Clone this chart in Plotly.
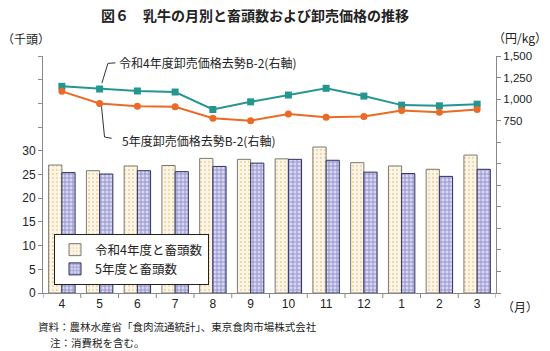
import plotly.graph_objects as go

months = ["4", "5", "6", "7", "8", "9", "10", "11", "12", "1", "2", "3"]
heads_r4 = [27.0, 25.8, 26.8, 26.9, 28.4, 28.2, 28.3, 30.8, 27.5, 26.8, 26.1, 29.1]
heads_r5 = [25.4, 25.1, 25.8, 25.6, 26.7, 27.4, 28.2, 28.0, 25.5, 25.2, 24.6, 26.1]
price_r4 = [1148, 1117, 1094, 1082, 879, 968, 1047, 1125, 1035, 930, 922, 941]
price_r5 = [1090, 950, 918, 910, 777, 750, 828, 789, 797, 868, 848, 880]

left_ticks = [0, 5, 10, 15, 20, 25, 30, 35, 40, 45, 50]
left_labels = ["0", "5", "10", "15", "20", "25", "30", "", "", "", ""]
right_ticks = [-1250, -1000, -750, -500, -250, 0, 250, 500, 750, 1000, 1250, 1500]
right_labels = ["", "", "", "", "", "", "", "", "750", "1,000", "1,250", "1,500"]

FONT = "Noto Sans CJK JP"
idx = list(range(len(months)))

fig = go.Figure()
fig.add_trace(go.Bar(
    x=idx, y=heads_r4, name="令和4年度と畜頭数",
    marker=dict(color="#fbf1dc", line=dict(color="#7a7a70", width=1),
                pattern=dict(shape=".", fgcolor="#e0b880", bgcolor="#fdf6e6", size=4, solidity=0.25)),
))
fig.add_trace(go.Bar(
    x=idx, y=heads_r5, name="5年度と畜頭数",
    marker=dict(color="#c9c9ec", line=dict(color="#30305a", width=1),
                pattern=dict(shape="+", fgcolor="#5050a8", bgcolor="#d8d8f2", size=4, solidity=0.45)),
))
fig.add_trace(go.Scatter(
    x=idx, y=price_r4, yaxis="y2", mode="lines+markers", showlegend=False,
    line=dict(color="#24968f", width=2),
    marker=dict(symbol="square", size=7, color="#24968f"),
))
fig.add_trace(go.Scatter(
    x=idx, y=price_r5, yaxis="y2", mode="lines+markers", showlegend=False,
    line=dict(color="#ea6a26", width=2),
    marker=dict(symbol="circle", size=7, color="#ea6a26"),
))

# callout lines
fig.add_shape(type="path", xref="x", yref="y2",
              path="M 1.42,1420 L 1.22,1415 L 1.06,1185",
              line=dict(color="#333333", width=1))
fig.add_shape(type="path", xref="x", yref="y2",
              path="M 1.05,913 L 1.13,560 L 1.32,545",
              line=dict(color="#333333", width=1))

fig.add_annotation(text="令和4年度卸売価格去勢B-2(右軸)", xref="paper", yref="paper",
                   x=(117 - 43) / 453, y=(293 - 62) / 237, xanchor="left", yanchor="middle",
                   showarrow=False, font=dict(size=12, color="#222222", family=FONT))
fig.add_annotation(text="5年度卸売価格去勢B-2(右軸)", xref="paper", yref="paper",
                   x=(120 - 43) / 453, y=(293 - 140) / 237, xanchor="left", yanchor="middle",
                   showarrow=False, font=dict(size=12, color="#222222", family=FONT))

fig.add_annotation(text="（千頭）", xref="paper", yref="paper", x=-43 / 453, y=(293 - 38) / 237,
                   xanchor="left", yanchor="middle", showarrow=False,
                   font=dict(size=12, color="#222222", family=FONT))
fig.add_annotation(text="（円/kg）", xref="paper", yref="paper", x=(549 - 43) / 453, y=(293 - 37) / 237,
                   xanchor="right", yanchor="middle", showarrow=False,
                   font=dict(size=12, color="#222222", family=FONT))
fig.add_annotation(text="（月）", xref="paper", yref="paper", x=(500 - 43) / 453, y=(293 - 306) / 237,
                   xanchor="left", yanchor="middle", showarrow=False,
                   font=dict(size=12, color="#222222", family=FONT))
fig.add_annotation(text="資料：農林水産省「食肉流通統計」、東京食肉市場株式会社", xref="paper", yref="paper",
                   x=(36 - 43) / 453, y=(293 - 326) / 237, xanchor="left", yanchor="middle",
                   showarrow=False, font=dict(size=10.5, color="#222222", family=FONT))
fig.add_annotation(text="注：消費税を含む。", xref="paper", yref="paper",
                   x=(48 - 43) / 453, y=(293 - 342) / 237, xanchor="left", yanchor="middle",
                   showarrow=False, font=dict(size=10.5, color="#222222", family=FONT))

fig.update_layout(
    width=550, height=351,
    margin=dict(l=43, r=54, t=56, b=58),
    paper_bgcolor="white", plot_bgcolor="white",
    font=dict(family=FONT, size=12, color="#222222"),
    title=dict(text="<b>図６　乳牛の月別と畜頭数および卸売価格の推移</b>", x=255 / 550, xanchor="center",
               y=1 - 16 / 351, yanchor="middle", font=dict(size=14, family=FONT, color="#222222")),
    barmode="group", bargap=0.3, bargroupgap=0.0,
    showlegend=True,
    legend=dict(x=(54 - 43) / 453, y=(293 - 234) / 237, xanchor="left", yanchor="top",
                bgcolor="white", bordercolor="#222222", borderwidth=1,
                font=dict(size=12.5, family=FONT), tracegroupgap=0, itemwidth=30),
    xaxis=dict(range=[-0.5, 11.5], tickvals=idx, ticktext=months, showgrid=False,
               showline=True, linecolor="#888888", linewidth=1, ticks="", zeroline=False,
               tickfont=dict(size=12, family="Liberation Sans", color="#222222")),
    yaxis=dict(range=[0, 50], tickvals=left_ticks, ticktext=left_labels, showgrid=False,
               showline=True, linecolor="#888888", linewidth=1, ticks="outside", ticklen=4,
               tickcolor="#888888", zeroline=False,
               tickfont=dict(size=12, family="Liberation Sans", color="#222222")),
    yaxis2=dict(range=[-1250, 1500], tickvals=right_ticks, ticktext=right_labels, overlaying="y",
                side="right", showgrid=False, showline=True, linecolor="#888888", linewidth=1,
                ticks="outside", ticklen=4, tickcolor="#888888", zeroline=False,
                tickfont=dict(size=11.5, family="Liberation Sans", color="#222222")),
)

# category boundary ticks on x axis
for i in range(len(months) + 1):
    fig.add_shape(type="line", xref="x", yref="paper", x0=i - 0.5, x1=i - 0.5, y0=0, y1=-5 / 237,
                  line=dict(color="#888888", width=1))

fig.write_html("out.html")
